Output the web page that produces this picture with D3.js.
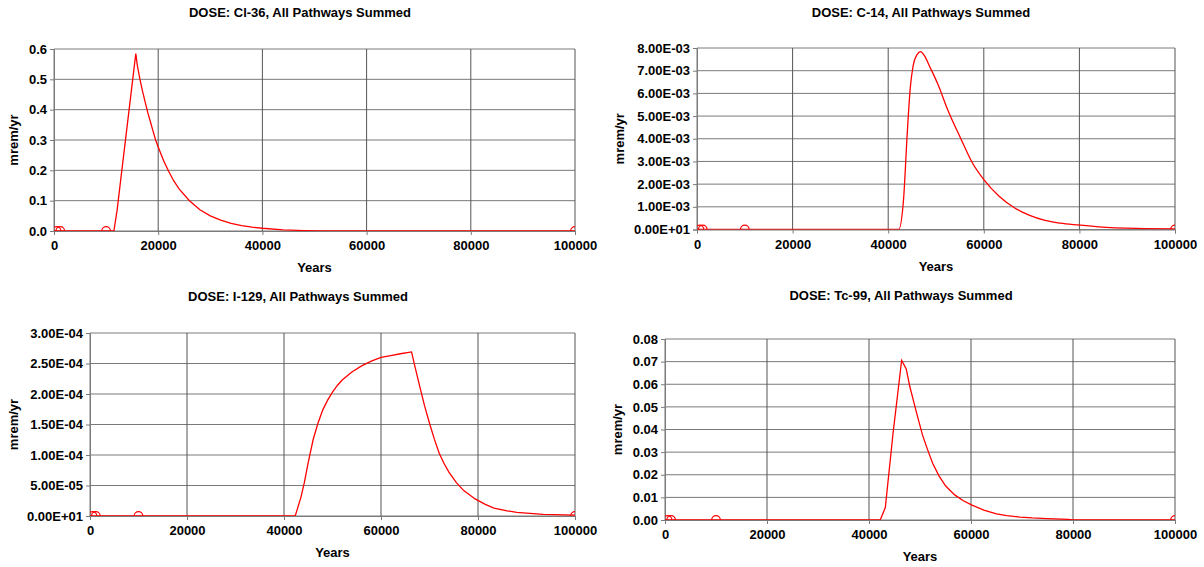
<!DOCTYPE html>
<html><head><meta charset="utf-8">
<script src="https://cdn.jsdelivr.net/npm/d3@7"></script>
<style>
body{margin:0;background:#fff}
svg text{font-family:"Liberation Sans",Arial,sans-serif;font-weight:bold;fill:#000}
</style></head>
<body><svg id="c" width="1204" height="567"></svg>
<script>
// ---- data ----
const xTicks = [0, 20000, 40000, 60000, 80000, 100000];
const markerYears = [500, 1200, 10000, 100000];

const cl36Years = [0, 11500, 12100, 15700, 16000, 16500, 17000, 17500, 18000, 18500, 19000, 19500, 20000, 21000, 22000, 23000, 24000, 26000, 28000, 30000, 32000, 34000, 36000, 38000, 40000, 44000, 48000, 52000, 100000];
const cl36Dose  = [0, 0, 0.067, 0.585, 0.545, 0.50, 0.46, 0.425, 0.39, 0.36, 0.33, 0.30, 0.277, 0.233, 0.197, 0.165, 0.139, 0.10, 0.07, 0.05, 0.036, 0.025, 0.018, 0.013, 0.009, 0.004, 0.0015, 0, 0];
const cl36YTicks = [0, 0.1, 0.2, 0.3, 0.4, 0.5, 0.6];
const cl36YLabels = ["0.0", "0.1", "0.2", "0.3", "0.4", "0.5", "0.6"];

const c14Years = [0, 42200, 43200, 44000, 44600, 45200, 46000, 46800, 47600, 48800, 50400, 52400, 55200, 57600, 60000, 63200, 66400, 69600, 72800, 76000, 79600, 84000, 92000, 100000];
const c14Dose  = [0, 0, 0.0013, 0.0043, 0.0062, 0.0072, 0.0077, 0.00784, 0.00765, 0.00713, 0.0064, 0.0053, 0.0040, 0.00294, 0.0022, 0.00147, 0.00096, 0.00062, 0.0004, 0.00028, 0.0002, 0.00012, 0.00005, 0.00003];
const c14YTicks = [0, 0.001, 0.002, 0.003, 0.004, 0.005, 0.006, 0.007, 0.008];
const c14YLabels = ["0.00E+01", "1.00E-03", "2.00E-03", "3.00E-03", "4.00E-03", "5.00E-03", "6.00E-03", "7.00E-03", "8.00E-03"];

const i129Years = [0, 42300, 42700, 43500, 44200, 45000, 46000, 47000, 48000, 49000, 50000, 51000, 52000, 54000, 56000, 58000, 60000, 62000, 64000, 66300, 67000, 68000, 69000, 70000, 71000, 72000, 73000, 74000, 75500, 77000, 79400, 81500, 83300, 86000, 88000, 93400, 100000];
const i129Dose  = [0, 0, 1.0e-5, 3.1e-5, 5.5e-5, 8.8e-5, 1.25e-4, 1.52e-4, 1.74e-4, 1.90e-4, 2.03e-4, 2.14e-4, 2.23e-4, 2.36e-4, 2.46e-4, 2.54e-4, 2.60e-4, 2.63e-4, 2.66e-4, 2.69e-4, 2.45e-4, 2.12e-4, 1.80e-4, 1.52e-4, 1.26e-4, 1.03e-4, 0.86e-4, 0.72e-4, 5.5e-5, 4.2e-5, 2.8e-5, 1.9e-5, 1.3e-5, 8.5e-6, 6e-6, 2.7e-6, 1.5e-6];
const i129YTicks = [0, 5e-5, 1e-4, 1.5e-4, 2e-4, 2.5e-4, 3e-4];
const i129YLabels = ["0.00E+01", "5.00E-05", "1.00E-04", "1.50E-04", "2.00E-04", "2.50E-04", "3.00E-04"];

const tc99Years = [0, 42200, 43200, 44700, 46400, 47300, 48000, 48800, 49600, 50500, 51500, 52500, 53700, 55000, 56800, 58500, 60200, 62500, 65000, 67000, 69600, 72000, 75000, 79000, 80000, 100000];
const tc99Dose  = [0, 0, 0.0055, 0.038, 0.0706, 0.0668, 0.059, 0.052, 0.045, 0.0375, 0.031, 0.025, 0.0196, 0.0151, 0.0111, 0.0085, 0.0066, 0.0044, 0.0027, 0.0019, 0.0013, 0.0009, 0.0006, 0.0003, 0, 0];
const tc99YTicks = [0, 0.01, 0.02, 0.03, 0.04, 0.05, 0.06, 0.07, 0.08];
const tc99YLabels = ["0.00", "0.01", "0.02", "0.03", "0.04", "0.05", "0.06", "0.07", "0.08"];

const titles = ["DOSE: Cl-36, All Pathways Summed", "DOSE: C-14, All Pathways Summed", "DOSE: I-129, All Pathways Summed", "DOSE: Tc-99, All Pathways Summed"];

// ---- layout ----
const panels = [
  {years: cl36Years, dose: cl36Dose, yt: cl36YTicks, yl: cl36YLabels, title: titles[0], smooth: false,
   L: 54, R: 575, T: 49, B: 231, tx: 300, ty: 17, lx: 14},
  {years: c14Years, dose: c14Dose, yt: c14YTicks, yl: c14YLabels, title: titles[1], smooth: true,
   L: 697, R: 1175, T: 48, B: 229.5, tx: 921, ty: 17, lx: 620},
  {years: i129Years, dose: i129Dose, yt: i129YTicks, yl: i129YLabels, title: titles[2], smooth: false,
   L: 90, R: 575, T: 333, B: 516, tx: 298, ty: 301, lx: 14},
  {years: tc99Years, dose: tc99Dose, yt: tc99YTicks, yl: tc99YLabels, title: titles[3], smooth: false,
   L: 665, R: 1175, T: 339, B: 520, tx: 901, ty: 300, lx: 618}
];

const svg = d3.select("#c");
const gridColor = "#7a7a7a";
const FS = "13px";

panels.forEach((p, i) => {
  const x = d3.scaleLinear().domain([0, 100000]).range([p.L, p.R]);
  const y = d3.scaleLinear().domain([0, p.yt[p.yt.length - 1]]).range([p.B, p.T]);
  const g = svg.append("g");

  g.append("text").attr("x", p.tx).attr("y", p.ty).attr("text-anchor", "middle")
    .style("font-size", FS).text(p.title);

  const yAxis = d3.axisLeft(y).tickValues(p.yt).tickSize(4).tickPadding(3)
    .tickFormat((d, k) => p.yl[k]);
  const ya = g.append("g").attr("transform", `translate(${p.L},0)`).call(yAxis);
  ya.select(".domain").attr("stroke", gridColor);
  ya.selectAll(".tick line").attr("stroke", gridColor);
  ya.selectAll(".tick text").style("font-size", FS).style("font-family", "Liberation Sans, Arial, sans-serif").style("font-weight", "bold");

  g.append("g").selectAll("line").data(p.yt).join("line")
    .attr("x1", p.L).attr("x2", p.R)
    .attr("y1", d => y(d)).attr("y2", d => y(d))
    .attr("stroke", gridColor).attr("stroke-width", 1);

  const xAxis = d3.axisBottom(x).tickValues(xTicks).tickSize(4).tickPadding(6).tickFormat(d3.format("d"));
  const xa = g.append("g").attr("transform", `translate(0,${p.B})`).call(xAxis);
  xa.select(".domain").attr("stroke", gridColor);
  xa.selectAll(".tick line").attr("stroke", gridColor);
  xa.selectAll(".tick text").style("font-size", FS).style("font-family", "Liberation Sans, Arial, sans-serif").style("font-weight", "bold");

  g.append("g").selectAll("line").data(xTicks).join("line")
    .attr("x1", d => x(d)).attr("x2", d => x(d))
    .attr("y1", p.T).attr("y2", p.B)
    .attr("stroke", d => d === 0 ? gridColor : "#555").attr("stroke-width", 1);

  g.append("text").attr("x", (p.L + p.R) / 2).attr("y", p.B + 41).attr("text-anchor", "middle")
    .style("font-size", FS).text("Years");
  g.append("text").attr("transform", `translate(${p.lx + 4},${(p.T + p.B) / 2}) rotate(-90)`)
    .attr("text-anchor", "middle").style("font-size", FS).text("mrem/yr");

  const cid = "clip" + i;
  svg.append("clipPath").attr("id", cid).append("rect")
    .attr("x", p.L).attr("y", p.T).attr("width", p.R - p.L).attr("height", p.B - p.T);

  const pts = p.years.map((yr, k) => [yr, p.dose[k]]);
  const line = d3.line().x(d => x(d[0])).y(d => y(d[1]))
    .curve(p.smooth ? d3.curveMonotoneX : d3.curveLinear);
  g.append("path").attr("clip-path", `url(#${cid})`).attr("d", line(pts))
    .attr("fill", "none").attr("stroke", "#ff0000").attr("stroke-width", 1.3);

  g.append("g").attr("clip-path", `url(#${cid})`).selectAll("circle").data(markerYears).join("circle")
    .attr("cx", d => x(d)).attr("cy", y(0)).attr("r", 4.3)
    .attr("fill", "none").attr("stroke", "#ff0000").attr("stroke-width", 1.2);
});
</script></body></html>
